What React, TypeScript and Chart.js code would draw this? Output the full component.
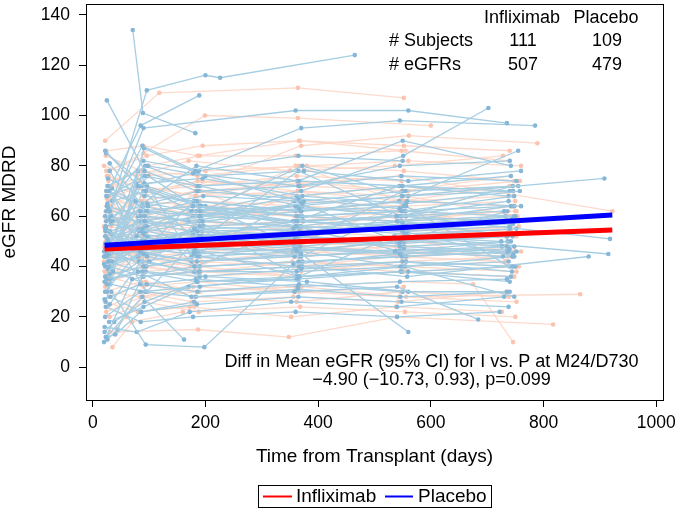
import React, { useEffect, useRef } from "react";
import { Chart, registerables } from "chart.js";

Chart.register(...registerables);

// ---------------- DATA ----------------
const xTicks = [0, 200, 400, 600, 800, 1000];
const yTicks = [0, 20, 40, 60, 80, 100, 120, 140];

// Placebo subjects: flat [day, eGFR, day, eGFR, ...]
const placeboSubjects: number[][] = [
  [71, 134, 89, 101, 182, 93],
  [25, 106, 92, 78, 185, 70, 365, 67, 545, 63],
  [30, 62, 96, 110, 200, 116, 226, 115, 465, 124],
  [28, 70, 85, 96, 189, 108],
  [24, 58, 90, 95, 360, 102, 560, 102, 735, 97],
  [35, 66, 88, 88, 182, 78, 370, 95, 545, 98, 785, 96],
  [26, 45, 92, 58, 190, 62, 370, 70, 551, 84, 702, 103],
  [22, 86, 80, 72, 178, 77, 365, 72, 545, 80, 740, 82],
  [30, 81, 95, 62, 190, 60, 372, 65, 550, 68, 908, 75],
  [22, 55, 75, 48, 180, 55, 360, 56, 540, 60, 730, 62],
  [28, 40, 90, 45, 185, 50, 368, 48, 552, 52, 740, 55],
  [33, 30, 94, 9, 198, 8, 356, 41, 545, 45, 735, 48],
  [24, 12, 88, 28, 162, 11],
  [20, 10, 70, 35, 180, 40, 365, 42, 548, 44, 738, 46],
  [22, 20, 85, 30, 190, 32, 365, 36, 560, 38, 745, 40],
  [30, 25, 95, 45, 185, 42, 370, 45, 560, 14],
  [25, 35, 80, 38, 175, 28, 358, 30, 540, 32, 684, 19],
  [27, 50, 88, 55, 192, 52, 362, 58, 555, 56, 748, 60],
  [32, 60, 97, 65, 188, 70, 368, 72, 548, 76, 752, 74],
  [21, 44, 78, 52, 170, 48, 350, 50, 535, 52, 725, 50],
  [24, 68, 92, 73, 195, 75, 372, 68, 556, 65, 758, 70],
  [29, 47, 90, 40, 186, 44, 366, 40, 550, 42, 744, 38],
  [36, 38, 96, 33, 183, 35, 364, 32, 545, 34, 735, 35],
  [23, 56, 84, 62, 178, 64, 362, 60, 540, 58, 742, 64],
  [26, 72, 98, 80, 200, 76, 375, 78, 560, 74, 760, 78],
  [31, 28, 86, 22, 185, 25, 365, 28, 548, 26, 738, 24],
  [22, 52, 94, 58, 190, 56, 368, 54, 552, 55, 746, 57],
  [34, 42, 91, 48, 180, 46, 360, 52, 545, 48, 735, 46],
  [25, 33, 82, 42, 188, 38, 372, 40, 558, 36, 880, 44],
  [28, 63, 96, 56, 193, 60, 366, 63, 548, 62, 750, 60],
  [20, 46, 76, 66, 175, 62, 355, 58, 538, 60, 730, 58],
  [30, 54, 88, 50, 182, 47, 362, 46, 546, 50, 736, 52],
  [23, 24, 85, 18, 178, 20, 360, 22, 540, 20, 722, 22],
  [27, 75, 92, 68, 185, 66, 370, 62, 552, 64],
  [35, 58, 98, 64, 196, 68, 375, 66, 555, 70, 755, 72],
  [22, 36, 80, 55, 172, 50, 358, 48, 536, 46, 728, 44],
  [26, 48, 86, 72, 190, 64, 364, 56, 550, 54, 740, 56],
  [31, 40, 90, 36, 180, 38, 362, 38, 546, 40, 738, 42],
  [24, 62, 94, 50, 186, 54, 368, 50, 552, 48, 742, 50],
  [29, 45, 84, 46, 175, 42, 358, 44, 540, 46, 726, 48],
  [22, 30, 88, 48, 182, 55, 366, 52, 548, 58, 745, 52],
  [33, 53, 96, 44, 190, 40, 372, 42, 556, 44, 752, 46],
  [26, 65, 90, 82, 188, 78, 365, 84, 550, 82],
  [21, 16, 78, 14, 172, 22, 352, 26, 540, 24, 730, 28],
  [28, 50, 92, 60, 195, 58, 370, 62, 558, 66, 760, 64],
  [25, 44, 100, 42, 200, 36, 380, 34, 560, 30, 735, 30],
  [32, 57, 86, 54, 178, 60, 360, 64, 545, 60, 738, 66],
  [24, 49, 90, 53, 186, 49, 364, 52, 552, 50, 748, 48],
  [30, 37, 95, 40, 190, 44, 368, 46, 550, 40, 745, 44],
  [22, 60, 82, 58, 176, 54, 356, 55, 542, 58, 732, 60],
  [27, 42, 88, 38, 184, 34, 362, 36, 546, 38, 740, 34],
  [35, 66, 94, 70, 192, 64, 366, 60, 552, 62, 748, 68],
  [23, 54, 86, 46, 180, 50, 360, 47, 545, 46, 736, 50],
  [29, 18, 90, 24, 170, 32, 362, 35, 548, 38, 742, 36],
  [21, 27, 84, 33, 186, 30, 366, 33, 550, 30],
  [26, 51, 92, 56, 188, 60, 364, 58, 556, 60, 918, 51],
  [33, 46, 97, 52, 194, 54, 372, 50, 560, 52, 915, 45],
  [24, 70, 88, 64, 182, 60, 362, 68, 548, 72, 742, 76],
  [28, 59, 95, 54, 190, 58, 370, 56, 555, 53, 752, 55],
  [20, 41, 80, 44, 174, 48, 355, 46, 540, 50, 735, 53],
  [31, 33, 92, 30, 183, 28, 364, 31, 546, 28, 740, 30],
  [25, 64, 86, 60, 180, 66, 360, 62, 544, 66],
  [22, 49, 88, 42, 186, 46, 368, 44, 552, 47, 746, 45],
  [34, 71, 98, 62, 196, 56, 374, 58, 558, 54, 756, 58],
  [27, 39, 90, 50, 188, 52, 366, 54, 550, 57, 744, 59],
  [23, 12, 40, 13, 85, 22, 180, 26],
  [21, 14, 38, 18, 92, 26, 186, 34, 365, 35],
  [26, 11, 44, 15, 88, 36, 190, 38, 368, 40],
  [30, 78, 80, 60, 170, 58, 360, 64],
  [24, 85, 96, 72, 200, 64, 372, 60, 555, 62, 748, 64],
  [28, 54, 90, 58, 184, 62, 362, 64, 548, 68, 740, 70],
  [22, 47, 84, 50, 178, 53, 358, 51, 544, 49, 734, 52],
  [32, 35, 94, 38, 190, 36, 370, 39, 556, 42, 750, 40],
  [26, 68, 92, 76, 186, 72, 366, 74, 550, 72, 746, 70],
  [20, 44, 86, 47, 180, 45, 362, 47, 548, 45, 740, 47],
  [25, 30, 91, 87, 185, 77, 368, 66],
  [29, 42, 93, 80, 190, 72, 372, 64],
  [23, 26, 78, 73, 176, 62],
  [22, 40, 90, 70, 185, 50, 365, 78, 548, 60, 745, 72],
  [28, 72, 85, 45, 180, 66, 362, 48, 550, 70],
  [24, 55, 96, 30, 190, 52, 370, 44, 556, 64, 740, 40],
  [30, 48, 80, 78, 176, 44, 358, 66, 542, 50, 736, 62],
  [26, 64, 92, 40, 188, 58, 366, 36, 552, 54, 748, 44],
  [21, 34, 86, 62, 182, 40, 360, 56, 546, 46],
  [33, 58, 98, 76, 195, 62, 372, 80, 560, 68, 755, 86],
  [25, 45, 88, 65, 184, 80, 364, 74, 550, 90, 742, 80],
  [29, 70, 94, 52, 190, 46, 368, 36, 554, 40, 748, 28],
  [23, 36, 82, 54, 178, 64, 358, 58, 544, 72, 738, 68],
];

// Infliximab subjects: flat [day, eGFR, day, eGFR, ...]
const infliximabSubjects: number[][] = [
  [22, 90, 118, 109, 364, 111, 552, 107],
  [30, 78, 90, 85, 199, 100, 364, 99, 600, 96],
  [25, 76, 92, 70, 185, 72, 370, 88, 561, 92, 789, 89],
  [28, 72, 96, 80, 190, 84, 360, 84, 548, 86, 740, 82],
  [24, 22, 88, 28, 185, 30, 360, 32, 545, 34, 675, 33, 746, 10],
  [22, 60, 86, 66, 182, 70, 365, 73, 546, 76, 922, 62],
  [30, 14, 187, 15, 348, 12, 540, 20, 817, 17],
  [26, 50, 90, 52, 180, 48, 362, 50, 550, 52, 742, 54],
  [32, 44, 88, 46, 184, 42, 366, 46, 554, 48, 748, 46],
  [20, 56, 80, 58, 176, 62, 358, 60, 540, 58, 730, 62],
  [24, 38, 92, 40, 190, 36, 370, 38, 556, 42, 752, 40],
  [28, 66, 96, 64, 192, 60, 368, 62, 552, 66, 744, 64],
  [22, 30, 86, 34, 180, 28, 362, 26, 546, 30, 738, 28],
  [34, 72, 90, 68, 186, 74, 364, 70, 550, 68, 746, 72],
  [25, 46, 82, 42, 174, 44, 356, 40, 540, 44, 732, 42],
  [30, 54, 94, 56, 190, 58, 370, 54, 558, 56, 754, 58],
  [23, 62, 88, 72, 182, 68, 362, 74, 548, 70, 742, 76],
  [27, 34, 90, 38, 186, 40, 366, 36, 552, 38, 748, 36],
  [21, 48, 84, 44, 178, 50, 358, 46, 542, 50, 734, 48],
  [33, 58, 96, 54, 194, 56, 372, 58, 560, 54, 756, 56],
  [26, 42, 88, 48, 184, 46, 364, 44, 550, 46, 744, 44],
  [22, 26, 80, 22, 172, 24, 352, 20, 538, 24, 726, 22],
  [29, 68, 92, 62, 188, 64, 368, 66, 554, 64, 750, 66],
  [24, 52, 86, 50, 180, 54, 360, 52, 546, 55, 740, 53],
  [31, 40, 94, 42, 192, 38, 370, 42, 556, 40, 752, 38],
  [20, 80, 78, 76, 170, 82, 350, 78, 536, 80, 728, 84],
  [27, 36, 90, 32, 186, 34, 366, 30, 552, 32],
  [23, 58, 84, 60, 178, 56, 358, 58, 542, 62, 736, 60],
  [35, 47, 98, 44, 196, 46, 374, 48, 560, 44, 760, 46],
  [25, 64, 88, 58, 182, 62, 362, 60, 548, 58, 744, 60],
  [30, 20, 92, 26, 188, 22, 368, 24, 554, 22, 750, 20],
  [22, 44, 86, 50, 180, 52, 360, 54, 546, 52, 740, 56],
  [28, 74, 90, 78, 186, 76, 366, 80, 552, 78, 748, 74],
  [26, 30, 84, 28, 178, 32, 358, 30, 544, 28, 865, 29],
  [32, 56, 94, 52, 190, 50, 370, 52, 556, 50, 752, 52],
  [24, 70, 88, 66, 184, 70, 364, 68, 550, 72, 746, 70],
  [21, 38, 80, 44, 174, 40, 354, 42, 540, 40, 732, 42],
  [29, 50, 92, 54, 188, 52, 368, 56, 554, 54, 750, 58],
  [23, 84, 86, 78, 182, 72, 362, 76, 548, 74],
  [33, 46, 96, 40, 192, 42, 372, 40, 558, 38, 756, 40],
  [27, 62, 90, 66, 186, 64, 366, 62, 552, 66, 748, 64],
  [22, 54, 82, 48, 176, 50, 356, 48, 542, 50, 736, 48],
  [30, 28, 94, 34, 190, 30, 370, 32, 556, 28, 752, 26],
  [25, 67, 88, 72, 184, 68, 364, 70, 550, 66, 746, 68],
  [20, 42, 78, 46, 172, 48, 352, 46, 538, 48, 730, 46],
  [34, 58, 92, 62, 188, 60, 368, 64, 554, 60, 750, 62],
  [26, 36, 86, 40, 182, 38, 362, 40, 548, 42, 744, 44],
  [28, 76, 96, 70, 194, 74, 374, 72, 560, 70, 758, 74],
  [23, 50, 84, 56, 178, 54, 358, 52, 544, 56, 738, 54],
  [31, 44, 90, 46, 186, 48, 366, 46, 552, 44, 748, 48],
  [22, 60, 88, 55, 182, 58, 362, 56, 548, 60, 742, 58],
  [27, 24, 82, 30, 176, 26, 356, 28, 542, 26, 734, 30],
  [24, 86, 90, 88, 186, 84, 366, 90, 552, 88, 740, 86],
  [30, 64, 94, 60, 190, 66, 370, 64, 556, 62],
  [21, 48, 86, 52, 180, 48, 360, 50, 546, 48, 740, 50],
  [25, 12, 60, 20, 90, 28, 180, 24],
  [28, 72, 100, 76, 200, 78, 380, 80, 560, 82, 760, 80],
  [33, 40, 88, 36, 184, 38, 364, 36, 550, 38, 746, 36],
  [22, 56, 92, 58, 190, 56, 370, 58, 556, 60, 752, 62],
  [26, 46, 84, 44, 178, 42, 358, 44, 544, 46, 736, 44],
  [35, 8, 70, 18, 160, 22],
  [24, 78, 96, 84, 195, 88, 368, 90, 555, 86],
  [24, 44, 90, 66, 186, 52, 366, 70, 552, 58, 746, 64],
  [30, 68, 86, 46, 182, 62, 362, 50, 548, 64, 742, 54],
  [22, 32, 92, 52, 188, 40, 368, 56, 554, 44],
  [27, 76, 96, 58, 192, 70, 372, 54, 558, 68, 754, 60],
  [25, 52, 84, 74, 180, 60, 360, 80, 546, 66, 740, 72],
  [32, 62, 90, 42, 186, 56, 366, 44, 552, 52, 748, 40],
];

const fitDays = [21, 922];
const fitInfliximab = [47, 54.5];
const fitPlacebo = [48.5, 60.5];

const groupNames = ["Infliximab", "Placebo"];
const tableRowLabels = ["# Subjects", "# eGFRs"];
const tableInfliximab = ["111", "507"];
const tablePlacebo = ["109", "479"];
const annotationLines = [
  "Diff in Mean eGFR (95% CI) for I vs. P at M24/D730",
  "\u22124.90 (\u221210.73, 0.93), p=0.099",
];
const xTitle = "Time from Transplant (days)";
const yTitle = "eGFR MDRD";

// ---------------- STYLE ----------------
const FONT = "'Liberation Sans', Arial, Helvetica, sans-serif";
const BLUE_LINE = "rgba(166,206,227,1)";
const BLUE_PT = "rgba(135,183,215,1)";
const SALMON_LINE = "rgba(253,214,198,0.9)";
const SALMON_PT = "rgba(250,196,176,1)";

function toPoints(arr: number[]) {
  const pts: { x: number; y: number }[] = [];
  for (let i = 0; i < arr.length; i += 2) pts.push({ x: arr[i], y: arr[i + 1] });
  return pts;
}

const framePlugin = {
  id: "framePlugin",
  afterDraw(chart: any) {
    const { ctx, chartArea } = chart;
    const { left, top, right, bottom } = chartArea;
    ctx.save();
    ctx.strokeStyle = "#000";
    ctx.lineWidth = 1;
    ctx.strokeRect(Math.round(left) + 0.5, Math.round(top) + 0.5, Math.round(right - left), Math.round(bottom - top));

    ctx.fillStyle = "#000";
    // table
    ctx.font = `18px ${FONT}`;
    ctx.textBaseline = "middle";
    ctx.textAlign = "center";
    ctx.fillText(groupNames[0], 522, 18);
    ctx.fillText(groupNames[1], 606, 18);
    for (let i = 0; i < tableRowLabels.length; i++) {
      const y = 41 + i * 24;
      ctx.textAlign = "left";
      ctx.fillText(tableRowLabels[i], 389, y);
      ctx.textAlign = "center";
      ctx.fillText(tableInfliximab[i], 523, y);
      ctx.fillText(tablePlacebo[i], 607, y);
    }
    // annotation
    ctx.textAlign = "center";
    ctx.fillText(annotationLines[0], 431.5, 362);
    ctx.fillText(annotationLines[1], 431.5, 380);

    // axis titles
    ctx.font = `19px ${FONT}`;
    ctx.fillText(xTitle, (left + right) / 2, 457);
    ctx.save();
    ctx.translate(10, (top + bottom) / 2);
    ctx.rotate(-Math.PI / 2);
    ctx.fillText(yTitle, 0, 0);
    ctx.restore();

    // legend
    ctx.strokeStyle = "#000";
    ctx.lineWidth = 1;
    ctx.strokeRect(258.5, 485.5, 233, 22);
    ctx.lineWidth = 2;
    ctx.strokeStyle = "#ff0000";
    ctx.beginPath();
    ctx.moveTo(263, 496.5);
    ctx.lineTo(292, 496.5);
    ctx.stroke();
    ctx.strokeStyle = "#0000ff";
    ctx.beginPath();
    ctx.moveTo(385, 496.5);
    ctx.lineTo(413, 496.5);
    ctx.stroke();
    ctx.textAlign = "left";
    ctx.fillText(groupNames[0], 296, 497);
    ctx.fillText(groupNames[1], 418, 497);
    ctx.restore();
  },
};

export default function App() {
  const ref = useRef<HTMLCanvasElement>(null);
  useEffect(() => {
    if (!ref.current) return;
    const datasets: any[] = [];
    infliximabSubjects.forEach((s) =>
      datasets.push({
        data: toPoints(s),
        showLine: true,
        borderColor: SALMON_LINE,
        borderWidth: 1.3,
        pointRadius: 2.3,
        pointBorderWidth: 0,
        pointBackgroundColor: SALMON_PT,
        order: 4,
      })
    );
    placeboSubjects.forEach((s) =>
      datasets.push({
        data: toPoints(s),
        showLine: true,
        borderColor: BLUE_LINE,
        borderWidth: 1.3,
        pointRadius: 2.3,
        pointBorderWidth: 0,
        pointBackgroundColor: BLUE_PT,
        order: 3,
      })
    );
    datasets.push({
      data: fitDays.map((d, i) => ({ x: d, y: fitInfliximab[i] })),
      showLine: true,
      borderColor: "#ff0000",
      borderWidth: 5,
      pointRadius: 0,
      order: 2,
    });
    datasets.push({
      data: fitDays.map((d, i) => ({ x: d, y: fitPlacebo[i] })),
      showLine: true,
      borderColor: "#0000ff",
      borderWidth: 5,
      pointRadius: 0,
      order: 1,
    });

    const tickFont = { family: FONT, size: 17.5 };
    const chart = new Chart(ref.current, {
      type: "scatter",
      data: { datasets },
      plugins: [framePlugin],
      options: {
        responsive: false,
        animation: false,
        layout: { padding: { top: 2, right: 16, left: 0, bottom: 0 } },
        plugins: { legend: { display: false }, tooltip: { enabled: false } },
        scales: {
          x: {
            type: "linear",
            min: -12,
            max: 1012,
            afterBuildTicks: (s: any) => {
              s.ticks = xTicks.map((v) => ({ value: v }));
            },
            afterFit: (s: any) => {
              s.height = 111;
              s.paddingLeft = 0;
              s.paddingRight = 0;
            },
            grid: { display: true, drawOnChartArea: false, drawTicks: true, tickLength: 7, color: "#000", tickColor: "#000" },
            border: { display: false },
            ticks: { font: tickFont, color: "#000", padding: 6, maxRotation: 0, autoSkip: false, callback: (v: any) => String(v) },
          },
          y: {
            type: "linear",
            min: -13,
            max: 144.3,
            afterBuildTicks: (s: any) => {
              s.ticks = yTicks.map((v) => ({ value: v }));
            },
            afterFit: (s: any) => {
              s.width = 86;
              s.paddingTop = 0;
              s.paddingBottom = 0;
            },
            grid: { display: true, drawOnChartArea: false, drawTicks: true, tickLength: 7, color: "#000", tickColor: "#000" },
            border: { display: false },
            ticks: { font: tickFont, color: "#000", padding: 9, autoSkip: false, callback: (v: any) => String(v) },
          },
        },
      },
    } as any);
    return () => chart.destroy();
  }, []);
  return (
    <div style={{ position: "fixed", left: 0, top: 0, width: 679, height: 511, background: "#fff" }}>
      <canvas ref={ref} width={679} height={511} style={{ width: 679, height: 511, display: "block" }} />
    </div>
  );
}
